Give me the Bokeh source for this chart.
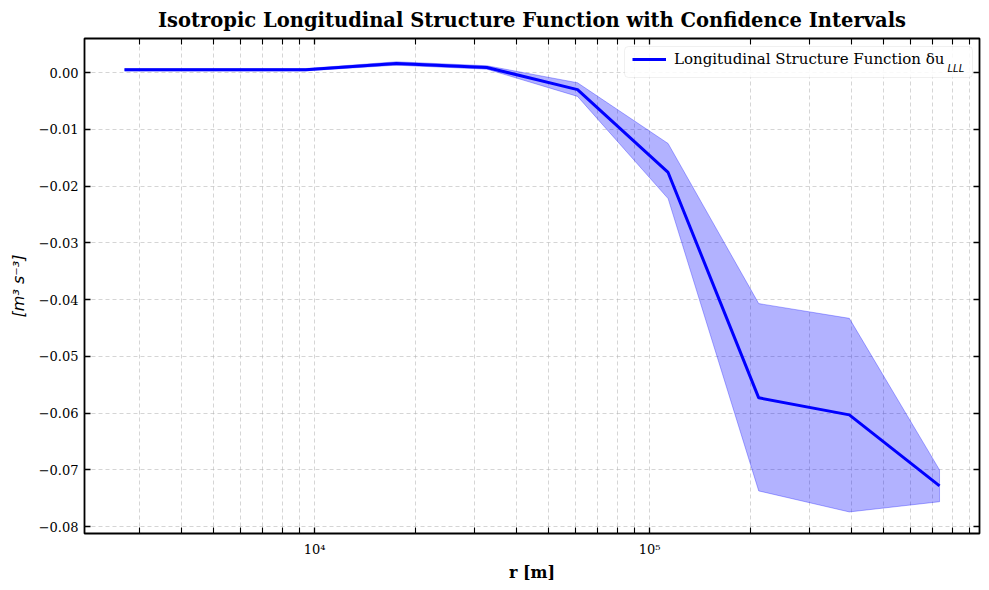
from bokeh.plotting import figure
from bokeh.models import (FixedTicker, LogAxis, LinearAxis, CustomJSTickFormatter,
                          Range1d, Legend, LegendItem, Label, BoxAnnotation)
from bokeh.embed import file_html
from bokeh.resources import INLINE

# separation distance r [m]
r = [2710, 5050, 9410, 17550, 32700, 60960, 113600, 211800, 394800, 734000]
# structure function mean and confidence bounds [m^3 s^-3]
s_mean = [0.0005, 0.0005, 0.0005, 0.0016, 0.0009, -0.0030, -0.0176, -0.0573, -0.0603, -0.0728]
s_upper = [0.0007, 0.0007, 0.0007, 0.0019, 0.0012, -0.0018, -0.0125, -0.0407, -0.0433, -0.0700]
s_lower = [0.0003, 0.0003, 0.0003, 0.0013, 0.0006, -0.0042, -0.0222, -0.0737, -0.0774, -0.0756]

x_major = [1e3, 1e4, 1e5, 1e6]
x_minor = [m * d for d in [1e3, 1e4, 1e5] for m in range(2, 10)]
y_ticks = [0.00, -0.01, -0.02, -0.03, -0.04, -0.05, -0.06, -0.07, -0.08]

title = "Isotropic Longitudinal Structure Function with Confidence Intervals"
legend_label = "Longitudinal Structure Function \u03b4u"
legend_sub = "LLL"

SERIF = "DejaVu Serif"

p = figure(width=989, height=590, x_axis_type="log",
           x_range=Range1d(2057, 966000), y_range=Range1d(-0.0812, 0.006),
           output_backend="svg", toolbar_location=None,
           min_border_left=84, min_border_right=10, min_border_top=38, min_border_bottom=57)

p.title.text = title
p.title.text_font = SERIF
p.title.text_font_style = "bold"
p.title.text_font_size = "19.5px"
p.title.text_color = "black"
p.title.align = "center"
p.title.standoff = 13

p.outline_line_color = "black"
p.outline_line_width = 1.8
p.background_fill_color = "white"
p.border_fill_color = "white"

xfmt = CustomJSTickFormatter(code="""
const e = Math.round(Math.log10(tick));
const sup = {'0':'\u2070','1':'\u00b9','2':'\u00b2','3':'\u00b3','4':'\u2074','5':'\u2075','6':'\u2076','7':'\u2077','8':'\u2078','9':'\u2079','-':'\u207b'};
return '10' + String(e).split('').map(c => sup[c]).join('');
""")
yfmt = CustomJSTickFormatter(code="return tick.toFixed(2).replace('-', '\u2212');")
blank = CustomJSTickFormatter(code="return '';")

xticker = FixedTicker(ticks=x_major, minor_ticks=x_minor)
yticker = FixedTicker(ticks=y_ticks, minor_ticks=[])


def style_axis(ax):
    ax.axis_line_color = None
    ax.major_tick_in = 6
    ax.major_tick_out = 0
    ax.minor_tick_in = 6
    ax.minor_tick_out = 0
    ax.major_tick_line_width = 1.3
    ax.minor_tick_line_width = 1.1
    ax.major_tick_line_color = "black"
    ax.minor_tick_line_color = "black"
    ax.major_label_text_font = SERIF
    ax.major_label_text_font_size = "13px"
    ax.major_label_text_color = "black"


xa = p.xaxis[0]
style_axis(xa)
xa.ticker = xticker
xa.formatter = xfmt
xa.major_label_standoff = 8
xa.axis_label = "r [m]"
xa.axis_label_text_font = SERIF
xa.axis_label_text_font_style = "bold"
xa.axis_label_text_font_size = "16px"
xa.axis_label_text_color = "black"
xa.axis_label_standoff = 3

ya = p.yaxis[0]
style_axis(ya)
ya.ticker = yticker
ya.formatter = yfmt
ya.major_label_standoff = 6
ya.axis_label = "[m\u00b3 s\u207b\u00b3]"
ya.axis_label_text_font = "DejaVu Sans"
ya.axis_label_text_font_style = "italic"
ya.axis_label_text_font_size = "16px"
ya.axis_label_text_color = "black"
ya.axis_label_standoff = 8

top = LogAxis(ticker=FixedTicker(ticks=x_major, minor_ticks=x_minor), formatter=blank)
style_axis(top)
top.major_label_text_font_size = "0px"
top.major_label_standoff = 0
p.add_layout(top, "above")

right = LinearAxis(ticker=FixedTicker(ticks=y_ticks, minor_ticks=[]), formatter=blank)
style_axis(right)
right.minor_tick_in = 0
right.major_label_text_font_size = "0px"
right.major_label_standoff = 0
p.add_layout(right, "right")

for g in (p.xgrid[0], p.ygrid[0]):
    g.grid_line_color = "#b0b0b0"
    g.grid_line_alpha = 0.6
    g.grid_line_dash = "4 3"
    g.grid_line_width = 0.9
p.xgrid[0].ticker = xticker
p.ygrid[0].ticker = yticker
p.xgrid[0].minor_grid_line_color = "#b0b0b0"
p.xgrid[0].minor_grid_line_alpha = 0.6
p.xgrid[0].minor_grid_line_dash = "4 3"
p.xgrid[0].minor_grid_line_width = 0.9

band_x = r + r[::-1]
band_y = s_upper + s_lower[::-1]
p.patch(band_x, band_y, fill_color="blue", fill_alpha=0.3,
        line_color="blue", line_alpha=0.3, line_width=1)
ln = p.line(r, s_mean, line_color="blue", line_width=3)

# legend frame (drawn beneath the legend entries so the subscript stays visible)
legend_box = BoxAnnotation(left=540, right=888, top=487, bottom=456,
                           left_units="screen", right_units="screen",
                           top_units="screen", bottom_units="screen",
                           fill_color="white", fill_alpha=0.85,
                           line_color="#cccccc", line_width=1,
                           border_radius=4, level="underlay")
p.add_layout(legend_box)

legend = Legend(items=[LegendItem(label=legend_label, renderers=[ln])],
                location="top_right")
legend.label_text_font = SERIF
legend.label_text_font_size = "15px"
legend.label_text_color = "black"
legend.glyph_width = 34
legend.glyph_height = 18
legend.padding = 5
legend.margin = 7
legend.spacing = 0
legend.label_standoff = 8
legend.label_width = 293
legend.border_line_color = "#cccccc"
legend.border_line_alpha = 0
legend.border_line_width = 1
legend.background_fill_alpha = 0
p.add_layout(legend)

sub = Label(x=863, y=465, x_units="screen", y_units="screen", text=legend_sub,
            text_font="DejaVu Sans", text_font_style="italic", text_font_size="10px",
            text_color="black", text_baseline="alphabetic", level="overlay")
p.add_layout(sub)

open("out.html", "w").write(file_html(p, INLINE))
